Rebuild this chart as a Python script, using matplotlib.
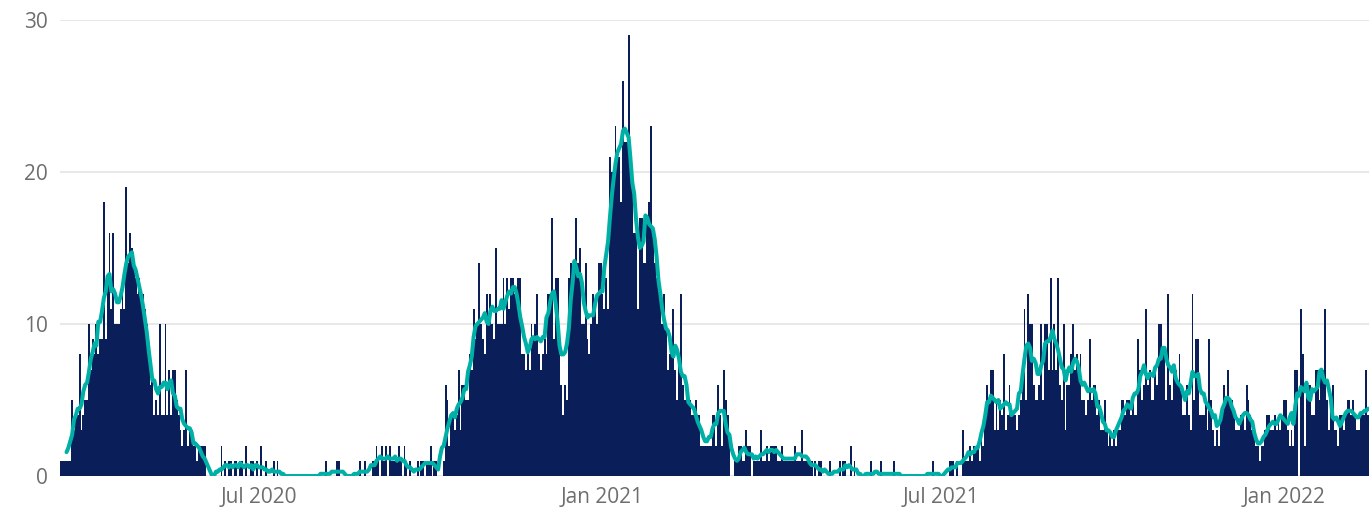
import numpy as np
import pandas as pd
import matplotlib
matplotlib.use("Agg")
import matplotlib.pyplot as plt

# daily counts, starting 2020-03-17
start = "2020-03-17"
daily = [
    1, 1, 1, 1, 1, 1, 5, 3, 4, 4,
    8, 3, 4, 5, 5, 10, 7, 9, 8, 10,
    8, 9, 9, 18, 9, 13, 16, 11, 16, 10,
    10, 10, 11, 12, 11, 19, 14, 16, 15, 14,
    13, 12, 13, 12, 12, 11, 10, 8, 6, 7,
    4, 5, 4, 10, 4, 4, 10, 4, 7, 4,
    7, 7, 5, 4, 3, 2, 3, 7, 2, 3,
    3, 2, 2, 1, 2, 2, 2, 2, 0, 0,
    0, 0, 0, 0, 0, 0, 2, 0, 1, 0,
    1, 1, 0, 1, 1, 0, 1, 1, 0, 2,
    0, 0, 1, 1, 0, 1, 0, 2, 0, 0,
    1, 0, 0, 0, 1, 0, 1, 0, 0, 0,
    0, 0, 0, 0, 0, 0, 0, 0, 0, 0,
    0, 0, 0, 0, 0, 0, 0, 0, 0, 0,
    0, 0, 1, 0, 0, 0, 0, 0, 1, 1,
    0, 0, 0, 0, 0, 0, 0, 0, 0, 0,
    1, 0, 0, 1, 0, 0, 0, 1, 1, 2,
    1, 0, 2, 1, 2, 0, 2, 1, 1, 1,
    1, 2, 1, 0, 2, 1, 0, 1, 0, 0,
    0, 1, 0, 1, 1, 0, 1, 1, 2, 0,
    1, 1, 0, 0, 0, 1, 6, 5, 2, 4,
    4, 3, 4, 7, 3, 6, 6, 5, 5, 8,
    7, 11, 9, 10, 14, 10, 9, 8, 12, 10,
    12, 10, 9, 15, 10, 10, 10, 13, 10, 13,
    11, 13, 13, 12, 12, 13, 13, 8, 8, 7,
    8, 7, 10, 9, 10, 12, 8, 7, 8, 9,
    8, 12, 12, 17, 9, 13, 13, 9, 6, 4,
    6, 5, 13, 14, 13, 13, 17, 14, 15, 10,
    10, 14, 9, 8, 10, 12, 11, 10, 14, 14,
    12, 11, 13, 11, 21, 20, 20, 23, 21, 21,
    18, 26, 22, 22, 29, 22, 19, 16, 16, 11,
    17, 17, 14, 14, 17, 18, 23, 16, 14, 13,
    13, 12, 10, 12, 10, 7, 8, 9, 11, 7,
    5, 8, 12, 6, 5, 5, 5, 5, 4, 4,
    5, 4, 4, 2, 2, 2, 2, 2, 2, 4,
    4, 2, 6, 4, 2, 7, 5, 4, 2, 0,
    0, 1, 1, 2, 2, 1, 1, 3, 2, 2,
    0, 1, 1, 1, 1, 3, 1, 1, 2, 1,
    2, 2, 2, 2, 1, 1, 2, 1, 1, 1,
    1, 1, 1, 2, 1, 1, 1, 3, 1, 1,
    1, 1, 1, 0, 1, 0, 1, 1, 0, 0,
    0, 0, 1, 0, 0, 0, 0, 1, 0, 1,
    1, 0, 0, 2, 0, 1, 0, 0, 0, 0,
    0, 0, 0, 0, 1, 0, 0, 0, 0, 1,
    0, 0, 0, 0, 0, 0, 1, 0, 0, 0,
    0, 0, 0, 0, 0, 0, 0, 0, 0, 0,
    0, 0, 0, 0, 0, 0, 0, 1, 0, 0,
    0, 0, 0, 0, 0, 0, 1, 1, 1, 0,
    1, 0, 0, 3, 1, 1, 1, 2, 1, 2,
    2, 2, 1, 3, 2, 4, 6, 5, 7, 7,
    3, 5, 3, 5, 4, 8, 3, 4, 6, 4,
    4, 4, 3, 4, 5, 7, 11, 5, 12, 10,
    10, 6, 5, 5, 6, 10, 5, 10, 10, 7,
    13, 7, 10, 7, 13, 6, 5, 10, 3, 6,
    6, 8, 10, 7, 8, 7, 8, 5, 5, 4,
    5, 9, 5, 6, 6, 4, 5, 3, 3, 5,
    3, 2, 3, 2, 3, 2, 3, 3, 5, 5,
    4, 5, 5, 4, 5, 4, 4, 9, 7, 5,
    6, 11, 6, 7, 5, 5, 7, 6, 10, 10,
    8, 8, 5, 12, 6, 5, 7, 7, 6, 8,
    6, 4, 4, 6, 4, 3, 12, 5, 9, 9,
    4, 4, 4, 5, 3, 9, 5, 3, 2, 3,
    2, 4, 4, 6, 5, 7, 5, 5, 4, 3,
    3, 3, 4, 4, 3, 6, 5, 4, 3, 3,
    2, 2, 1, 2, 2, 3, 4, 4, 3, 3,
    4, 3, 4, 3, 4, 5, 5, 3, 2, 3,
    2, 7, 7, 0, 11, 8, 2, 6, 6, 6,
    4, 4, 7, 7, 5, 7, 7, 11, 5, 3,
    5, 6, 3, 3, 2, 4, 4, 3, 4, 5,
    5, 4, 5, 4, 3, 3, 4, 4, 4, 7,
    4, 4, 3, 5,
]
visible_days = 701

tick_dates = ["2020-07-01", "2021-01-01", "2021-07-01", "2022-01-01"]
tick_labels = ["Jul 2020", "Jan 2021", "Jul 2021", "Jan 2022"]
y_ticks = [0, 10, 20, 30]

dates = pd.date_range(start, periods=len(daily), freq="D")
s = pd.Series(daily, index=dates, dtype=float)
avg = s.rolling(7, center=True).mean()  # 7-day average

plt.rcParams["font.family"] = ["Open Sans", "DejaVu Sans"]

fig = plt.figure(figsize=(13.69, 5.13), dpi=100)
ax = fig.add_axes([60 / 1369, 1 - 476 / 513, 1 - 60 / 1369, (476 - 20) / 513])

ax.bar(dates, s.values, width=1.0, color="#0a1e5a", linewidth=0, zorder=2)
ax.plot(dates, avg.values, color="#00b0a6", linewidth=2.9, zorder=3,
        solid_capstyle="round", solid_joinstyle="round")

t0 = pd.Timestamp(start)
ax.set_xlim(t0 - pd.Timedelta(hours=12), t0 + pd.Timedelta(days=visible_days) - pd.Timedelta(hours=12))
ax.set_ylim(0, 30)

ax.set_yticks(y_ticks)
ax.set_xticks([pd.Timestamp(d) for d in tick_dates])
ax.set_xticklabels(tick_labels)
ax.grid(axis="y", color="#e8e8e8", linewidth=1.5, zorder=0)
ax.set_axisbelow(True)
for sp in ax.spines.values():
    sp.set_visible(False)
ax.tick_params(axis="both", length=0, labelsize=15, labelcolor="#6e6e6e")
ax.tick_params(axis="x", pad=8)
ax.tick_params(axis="y", pad=9)

fig.savefig("out.png", dpi=100)
